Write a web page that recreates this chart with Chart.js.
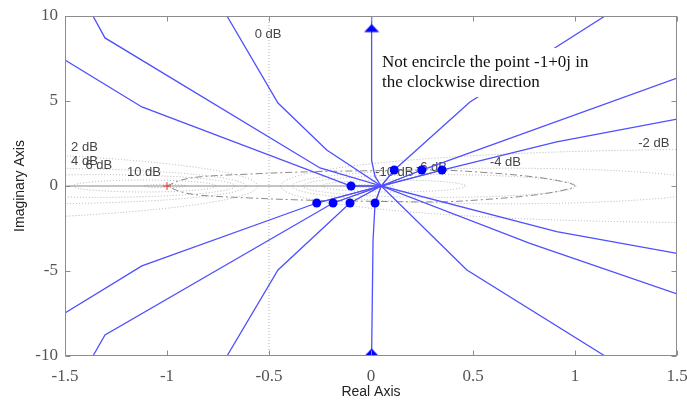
<!DOCTYPE html>
<html>
<head>
<meta charset="utf-8">
<script src="https://cdn.jsdelivr.net/npm/chart.js@4.4.1/dist/chart.umd.min.js"></script>
<style>
  html, body { margin: 0; padding: 0; background: #fff; }
</style>
</head>
<body>
<canvas id="nyquistChart" width="687" height="403"></canvas>
<script>
// Curvas de Nyquist (parte real / imaginária)
const hubRe = 0.05;
const c1Re = [-1.363, -1.304, -0.25, 0.05, -0.186, -1.304, -1.363];
const c1Im = [10, 8.71, 1.06, 0, -1.0, -8.76, -10];
const c2Re = [-1.5, -1.123, -0.098, 0.05, -0.266, -1.123, -1.5];
const c2Im = [7.41, 4.65, 0, 0, -1.0, -4.7, -7.47];
const c3Re = [-0.706, -0.456, -0.217, 0.05, -0.103, -0.456, -0.706];
const c3Im = [10, 4.88, 2.12, 0, -1.0, -4.94, -10];
const c4Re = [0.003, 0.003, 0.02, 0.05, 0.02, 0.01, 0.003];
const c4Im = [10, 1.5, 0.55, 0, -1.0, -3.2, -10];
const c5Re = [1.147, 0.485, 0.114, 0.05, 0.47, 1.147];
const c5Im = [10, 4.94, 0.94, 0, -4.94, -10];
const c6Re = [1.5, 0.249, 0.05, 0.779, 1.5];
const c6Im = [6.35, 0.94, 0, -3.37, -6.35];
const c7Re = [1.5, 0.91, 0.348, 0.05, 0.91, 1.5];
const c7Im = [3.94, 2.6, 0.94, 0, -2.69, -3.96];

// Marcadores (pontos azuis) e setas
const markRe = [-0.266, -0.186, -0.103, 0.02, -0.098, 0.114, 0.249, 0.348];
const markIm = [-1.0, -1.0, -1.0, -1.0, 0, 0.94, 0.94, 0.94];
const arrowRe = [0.003, 0.003];
const arrowIm = [9.26, -9.82];

// Linha cinza no eixo real e laço traço-ponto
const realLineRe = [-1.5, 0.05];
const realLineIm = [0, 0];
const loopRe = [-1, -0.93, -0.83, -0.6, -0.35, 0, 0.35, 0.55, 0.75, 0.9, 1.0, 0.9, 0.75, 0.55, 0.35, 0, -0.35, -0.6, -0.83, -0.93, -1];
const loopIm = [0, 0.35, 0.55, 0.7, 0.82, 0.9, 0.93, 0.8, 0.6, 0.35, 0, -0.35, -0.6, -0.8, -0.93, -0.9, -0.82, -0.7, -0.55, -0.35, 0];

// Grade de círculos M (dB) e rótulos
const gridDb = [-20, -10, -6, -4, -2, 2, 4, 6, 10, 20];
const dbLabels = ['2 dB', '4 dB', '6 dB', '10 dB', '0 dB', '-2 dB', '-4 dB', '-6 dB', '-10 dB'];
const dbLabelRe = [-1.47, -1.47, -1.40, -1.196, -0.57, 1.31, 0.583, 0.22, 0.02];
const dbLabelIm = [2.25, 1.47, 1.2, 0.8, 8.9, 2.53, 1.41, 1.12, 0.82];

const noteLines = ['Not encircle the point -1+0j in', 'the clockwise direction'];
const noteRe = 0.054;
const noteIm = [7.24, 6.06];

const blue = '#4f4fff';

function toPts(re, im) {
  return re.map((r, i) => ({ x: r, y: im[i] }));
}

function curve(re, im) {
  return { data: toPts(re, im), showLine: true, borderColor: blue, borderWidth: 1.3,
           pointRadius: 0, fill: false, clip: 0, order: 2 };
}

// seta achatada como no original
const arrowImg = document.createElement('canvas');
arrowImg.width = 16; arrowImg.height = 10;
(function () {
  const g = arrowImg.getContext('2d');
  g.fillStyle = '#0000ff';
  g.beginPath(); g.moveTo(8, 0.5); g.lineTo(15.5, 8.5); g.lineTo(0.5, 8.5); g.closePath(); g.fill();
})();

const spokes = markRe.map((r, i) => ({
  data: [{ x: hubRe, y: 0 }, { x: r, y: markIm[i] }],
  showLine: true, borderColor: '#8a8a8a', borderWidth: 1, pointRadius: 0, clip: 0, order: 3
}));

const mGridPlugin = {
  id: 'mGrid',
  beforeDatasetsDraw(chart) {
    const { ctx, chartArea: a, scales: { x, y } } = chart;
    ctx.save();
    ctx.beginPath(); ctx.rect(a.left, a.top, a.width, a.height); ctx.clip();
    ctx.strokeStyle = '#b0b0b0'; ctx.lineWidth = 1; ctx.setLineDash([1, 2]);
    gridDb.forEach(db => {
      const m = Math.pow(10, db / 20);
      const c = -m * m / (m * m - 1);
      const r = Math.abs(m / (m * m - 1));
      const cx = x.getPixelForValue(c), cy = y.getPixelForValue(0);
      const rx = Math.abs(x.getPixelForValue(c + r) - cx);
      const ry = Math.abs(y.getPixelForValue(r) - cy);
      ctx.beginPath(); ctx.ellipse(cx, cy, rx, ry, 0, 0, Math.PI * 2); ctx.stroke();
    });
    const x0 = x.getPixelForValue(-0.5);
    ctx.beginPath(); ctx.moveTo(x0, a.top); ctx.lineTo(x0, a.bottom); ctx.stroke();
    ctx.setLineDash([]);
    ctx.fillStyle = '#444';
    ctx.font = '13px "Liberation Sans", Arial, sans-serif';
    ctx.textAlign = 'left'; ctx.textBaseline = 'middle';
    dbLabels.forEach((t, i) => ctx.fillText(t, x.getPixelForValue(dbLabelRe[i]), y.getPixelForValue(dbLabelIm[i])));
    ctx.restore();
  }
};

const notePlugin = {
  id: 'note',
  afterDatasetsDraw(chart) {
    const { ctx, scales: { x, y } } = chart;
    ctx.save();
    ctx.font = '17px "Liberation Serif", "Times New Roman", serif';
    const tx = x.getPixelForValue(noteRe);
    const ys = noteIm.map(v => y.getPixelForValue(v));
    const w = Math.max(...noteLines.map(t => ctx.measureText(t).width));
    ctx.fillStyle = '#fff';
    ctx.fillRect(tx - 4, ys[0] - 15, w + 8, ys[1] - ys[0] + 29);
    ctx.fillStyle = '#111';
    ctx.textAlign = 'left'; ctx.textBaseline = 'middle';
    noteLines.forEach((t, i) => ctx.fillText(t, tx, ys[i]));
    ctx.restore();
  }
};

const framePlugin = {
  id: 'frame',
  afterDatasetsDraw(chart) {
    const { ctx, chartArea: a, scales: { x, y } } = chart;
    ctx.save();
    ctx.strokeStyle = '#8c8c8c'; ctx.lineWidth = 1;
    const L = Math.round(a.left) + 0.5, R = Math.round(a.right) - 0.5;
    const T = Math.round(a.top) + 0.5, B = Math.round(a.bottom) - 0.5;
    ctx.strokeRect(L, T, R - L, B - T);
    ctx.beginPath();
    x.ticks.forEach(t => {
      const px = Math.round(x.getPixelForValue(t.value)) + 0.5;
      ctx.moveTo(px, B); ctx.lineTo(px, B - 5);
      ctx.moveTo(px, T); ctx.lineTo(px, T + 5);
    });
    y.ticks.forEach(t => {
      const py = Math.round(y.getPixelForValue(t.value)) + 0.5;
      ctx.moveTo(L, py); ctx.lineTo(L + 5, py);
      ctx.moveTo(R, py); ctx.lineTo(R - 5, py);
    });
    ctx.stroke();
    ctx.restore();
  }
};

const tickFont = { family: '"Liberation Serif", "Times New Roman", serif', size: 17 };
const titleFont = { family: '"Liberation Sans", Arial, sans-serif', size: 14 };

new Chart(document.getElementById('nyquistChart'), {
  type: 'scatter',
  data: {
    datasets: [
      { data: toPts(loopRe, loopIm), showLine: true, borderColor: '#8a8a8a', borderWidth: 1,
        borderDash: [7, 3, 2, 3], pointRadius: 0, tension: 0.35, clip: 0, order: 4 },
      { data: toPts(realLineRe, realLineIm), showLine: true, borderColor: '#8a8a8a', borderWidth: 1,
        pointRadius: 0, clip: 0, order: 3 },
      ...spokes,
      curve(c1Re, c1Im), curve(c2Re, c2Im), curve(c3Re, c3Im), curve(c4Re, c4Im),
      curve(c5Re, c5Im), curve(c6Re, c6Im), curve(c7Re, c7Im),
      { data: [{ x: -1, y: 0 }], pointStyle: 'cross', pointRadius: 4, borderColor: '#ff3030',
        borderWidth: 1, showLine: false, order: 1 },
      { data: toPts(markRe, markIm), pointStyle: 'circle', pointRadius: 4.5, backgroundColor: '#0000ff',
        borderWidth: 0, showLine: false, order: 0 },
      { data: toPts(arrowRe, arrowIm), pointStyle: arrowImg, showLine: false, clip: 0, order: 0 }
    ]
  },
  options: {
    responsive: false,
    animation: false,
    layout: { padding: { top: 16, right: 10, left: 0, bottom: 0 } },
    plugins: { legend: { display: false }, tooltip: { enabled: false } },
    scales: {
      x: {
        type: 'linear', min: -1.5, max: 1.5,
        afterFit: s => { s.height = 47; s.paddingLeft = 0; s.paddingRight = 0; },
        grid: { display: false, drawTicks: false }, border: { display: false },
        ticks: { stepSize: 0.5, padding: 10, color: '#555', font: tickFont, callback: v => String(v) },
        title: { display: true, text: 'Real Axis', color: '#222', font: titleFont, padding: { top: 0, bottom: 2 } }
      },
      y: {
        type: 'linear', min: -10, max: 10,
        afterFit: s => { s.width = 65; s.paddingTop = 0; s.paddingBottom = 0; },
        grid: { display: false, drawTicks: false }, border: { display: false },
        ticks: { stepSize: 5, padding: 7, color: '#555', font: tickFont, callback: v => String(v) },
        title: { display: true, text: 'Imaginary Axis', color: '#222', font: titleFont, padding: { top: 12, bottom: 0 } }
      }
    }
  },
  plugins: [mGridPlugin, notePlugin, framePlugin]
});
</script>
</body>
</html>
